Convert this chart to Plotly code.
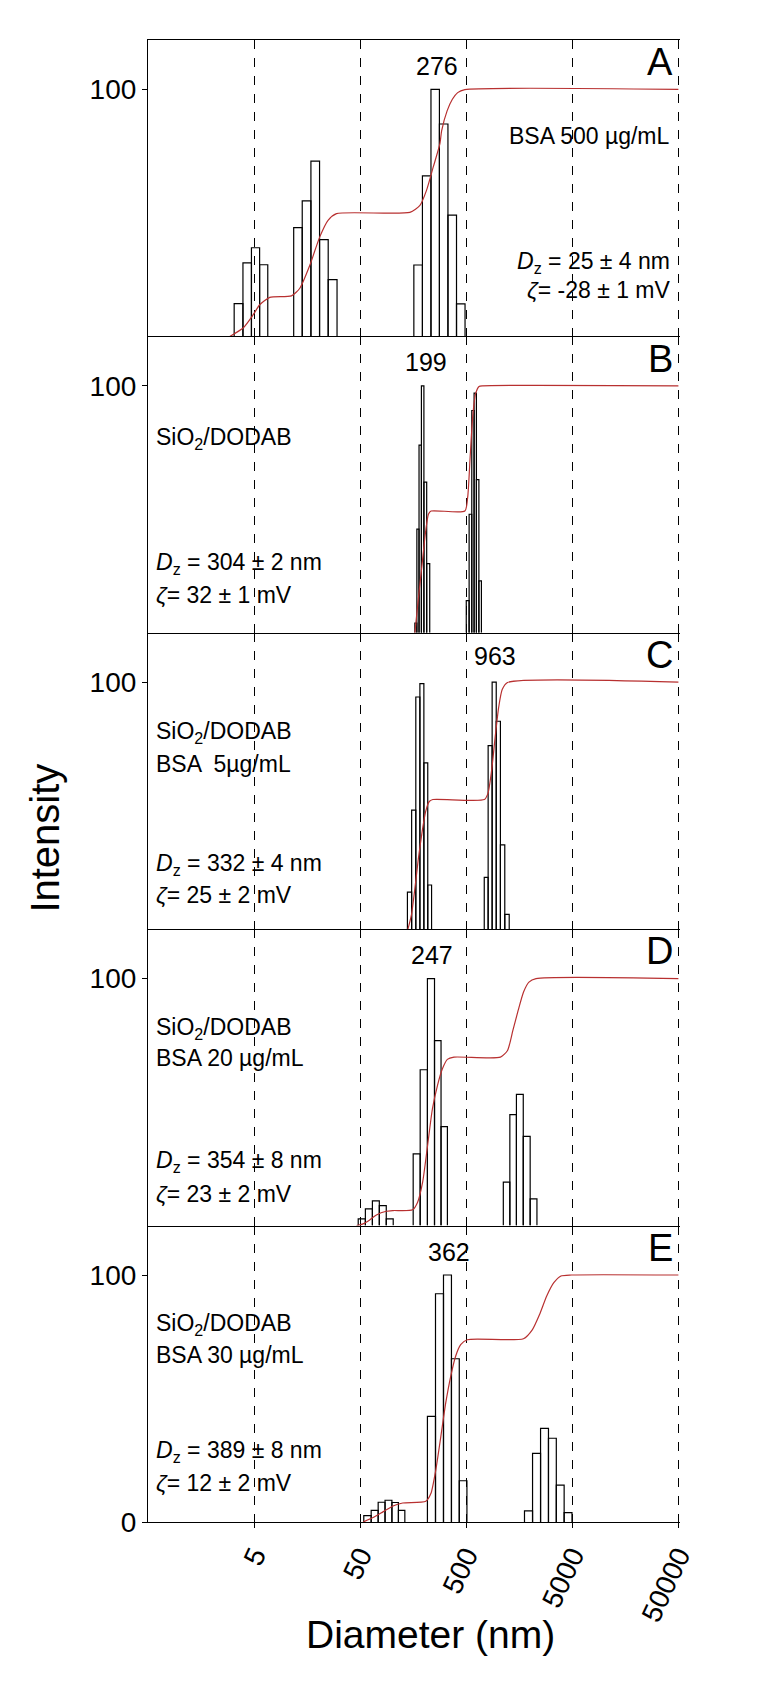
import numpy as np
import plotly.graph_objects as go
from plotly.subplots import make_subplots

# ---------------- data ----------------
panel_letters = ["A", "B", "C", "D", "E"]

# histogram bars: bin centre diameters (nm) and intensities
a_diam = [3.57, 4.32, 5.16, 6.16, 12.96, 15.6, 18.9, 22.7, 27.5, 176, 212, 255, 306, 369, 444]
a_int = [13.3, 29.8, 35.9, 29.0, 44.0, 54.9, 71.0, 39.2, 23.0, 28.9, 65.0, 100, 86.0, 49.1, 13.2]

b_diam = [167.5, 175, 184, 194, 205, 219, 516, 549, 579, 607, 640, 676]
b_int = [3.9, 42, 76, 100, 61, 28, 13, 48, 90, 97, 62, 21]

c_diam = [146, 160, 175, 191, 208, 226, 771, 839, 917, 1002, 1100, 1211]
c_int = [15.0, 48.2, 94, 99.4, 67.3, 17.9, 21, 74.3, 100, 84.2, 34.1, 6]

d_diam = [51.8, 60.5, 70.3, 81.7, 95.0, 170.5, 198.5, 233.5, 270, 310, 1200, 1383, 1597, 1860, 2155]
d_int = [2.7, 6.8, 10, 8.1, 2.7, 29, 63.1, 100, 74.9, 40.1, 17.6, 44.9, 53.1, 36.1, 10.8]

e_diam = [58.6, 68.8, 79.4, 92.7, 107, 123, 235, 280, 332.5, 395.5, 467, 1932, 2301, 2736, 3243, 3845, 4558]
e_int = [2.6, 4.7, 8.0, 8.8, 7.9, 4.7, 42.8, 92.4, 100, 66.1, 16.7, 4.5, 27.8, 37.9, 33.9, 14.9, 3.8]

# cumulative (red) curves: diameter (nm), cumulative intensity (%)
a_cum_d = [2.95, 3.94, 4.89, 5.65, 7.03, 11.25, 13.5, 16.8, 20.8, 24.9, 29.9, 147, 183, 211, 244, 282, 293, 330, 370, 415, 485, 50000]
a_cum_v = [0, 3.4, 8.7, 12.8, 15.8, 16.4, 19.5, 28.9, 40.3, 47.0, 49.7, 50.2, 53.0, 59.1, 68.5, 77.9, 83.2, 91.3, 96.0, 98.7, 99.9, 100]

b_cum_d = [164, 177, 192, 207, 220, 233, 485, 516, 544, 574, 611, 660, 713, 50000]
b_cum_v = [0, 14, 28, 41, 48, 49.3, 49.3, 55, 71, 87, 96.6, 99.7, 100, 100]

c_cum_d = [141, 152, 164, 177, 192, 207, 224, 242, 741, 801, 865, 935, 1009, 1091, 1225, 50000]
c_cum_v = [0, 5.7, 16.5, 28.7, 39.5, 47.6, 51.7, 52.5, 52.5, 55, 63.9, 77.4, 89.6, 97, 99.9, 100]

d_cum_d = [46.2, 53.3, 61.5, 71.1, 88.1, 102, 156, 174, 194, 216, 240, 268, 298, 332, 383, 1050, 1225, 1376, 1545, 1734, 1950, 2274, 50000]
d_cum_v = [0, 0.7, 2.3, 4.3, 5.8, 6.1, 6.4, 9.5, 17.6, 32.4, 47.3, 56.8, 63.5, 67.3, 68.2, 68.2, 70.9, 79, 87.2, 94.6, 98.6, 100, 100]

e_cum_d = [53.4, 66.2, 82, 102, 126, 208, 232, 258, 288, 320, 357, 397, 443, 511, 1732, 2103, 2455, 2868, 3346, 3905, 4918, 50000]
e_cum_v = [0, 1.8, 4.1, 6.5, 7.7, 8.4, 11.5, 21, 34.6, 48.1, 59, 67.1, 71.8, 73.8, 74.2, 77.9, 84, 91.5, 96.9, 99.6, 100, 100]

# peak labels (text, diameter at label centre, height)
peak_text = ["276", "199", "963", "247", "362"]
peak_pos = [265, 210, 935, 236, 343]
peak_y = [109.5, 109.5, 110.5, 109.5, 109.5]

# sample description lines per panel
desc_lines = [
    ["BSA 500 \u00b5g/mL"],
    ["SiO<sub>2</sub>/DODAB"],
    ["SiO<sub>2</sub>/DODAB", "BSA  5\u00b5g/mL"],
    ["SiO<sub>2</sub>/DODAB", "BSA 20 \u00b5g/mL"],
    ["SiO<sub>2</sub>/DODAB", "BSA 30 \u00b5g/mL"],
]
desc_y = [[81], [78.5], [79.5, 67], [80, 68], [80, 67.5]]
dz_text = ["25 \u00b1 4 nm", "304 \u00b1 2 nm", "332 \u00b1 4 nm", "354 \u00b1 8 nm", "389 \u00b1 8 nm"]
zeta_text = ["-28 \u00b1 1 mV", "32 \u00b1 1 mV", "25 \u00b1 2 mV", "23 \u00b1 2 mV", "12 \u00b1 2 mV"]
dz_y = [30, 28, 26, 26, 28.5]
zeta_y = [18.6, 15.5, 13.8, 12.8, 15.6]

x_ticks = [5, 50, 500, 5000, 50000]
x_min, x_max = 0.5, 50000

bars = [(a_diam, a_int), (b_diam, b_int), (c_diam, c_int), (d_diam, d_int), (e_diam, e_int)]
cums = [(a_cum_d, a_cum_v), (b_cum_d, b_cum_v), (c_cum_d, c_cum_v), (d_cum_d, d_cum_v), (e_cum_d, e_cum_v)]

# ---------------- figure ----------------
W, H = 762, 1686
ML, MT, MB = 148, 40, 164
plot_w = 530.0
ext = 0.015  # keep the 50000 grid line inside the plotting range
lx0, lx1 = np.log10(x_min), np.log10(x_max) + ext
px_per_dec = plot_w / (np.log10(x_max) - np.log10(x_min))
MR = W - ML - px_per_dec * (lx1 - lx0)
PH = H - MT - MB

FONT = "Liberation Sans, Arial, sans-serif"
RED = "#b83030"

fig = make_subplots(rows=5, cols=1, shared_xaxes=True, vertical_spacing=0)


def bar_outline(diam, heights):
    l = np.log10(np.asarray(diam, float))
    h = np.asarray(heights, float)
    d = np.diff(l)
    step = np.median(d)
    groups, cur = [], [0]
    for i in range(1, len(l)):
        if l[i] - l[i - 1] > 1.8 * step:
            groups.append(cur)
            cur = [i]
        else:
            cur.append(i)
    groups.append(cur)
    xs, ys = [], []
    for g in groups:
        lg = l[g]
        if len(lg) > 1:
            mids = (lg[1:] + lg[:-1]) / 2
            edges = np.concatenate([[lg[0] - (lg[1] - lg[0]) / 2], mids, [lg[-1] + (lg[-1] - lg[-2]) / 2]])
        else:
            edges = np.array([lg[0] - step / 2, lg[0] + step / 2])
        for k, idx in enumerate(g):
            x0, x1 = 10 ** edges[k], 10 ** edges[k + 1]
            xs += [x0, x0, x1, x1, None]
            ys += [0, h[idx], h[idx], 0, None]
    return xs, ys


for r in range(5):
    row = r + 1
    bx, by = bar_outline(*bars[r])
    fig.add_trace(go.Scatter(x=bx, y=by, mode="lines", line=dict(color="black", width=1.2),
                             showlegend=False, hoverinfo="skip"), row=row, col=1)
    cd, cv = cums[r]
    fig.add_trace(go.Scatter(x=cd, y=cv, mode="lines", line=dict(color=RED, width=1.2, shape="spline", smoothing=0.6),
                             showlegend=False, hoverinfo="skip"), row=row, col=1)

    xname = "x" if row == 1 else f"x{row}"
    yname = "y" if row == 1 else f"y{row}"
    # panel letter
    fig.add_annotation(x=lx1 - ext, y=111, xref=xname, yref=yname, text=panel_letters[r], showarrow=False,
                       xanchor="right", yanchor="middle", xshift=-3, font=dict(size=38, family=FONT, color="black"))
    # peak label
    fig.add_annotation(x=np.log10(peak_pos[r]), y=peak_y[r], xref=xname, yref=yname, text=peak_text[r],
                       showarrow=False, xanchor="center", yanchor="middle", font=dict(size=25, family=FONT, color="black"))
    if r == 0:
        xa, anch, shift = lx1 - ext, "right", -6
    else:
        xa, anch, shift = lx0, "left", 6
    for t, yy in zip(desc_lines[r], desc_y[r]):
        fig.add_annotation(x=xa, y=yy, xref=xname, yref=yname, text=t, showarrow=False, xanchor=anch,
                           yanchor="middle", xshift=shift, font=dict(size=23, family=FONT, color="black"))
    fig.add_annotation(x=xa, y=dz_y[r], xref=xname, yref=yname,
                       text="<i>D</i><sub>z</sub> = " + dz_text[r], showarrow=False, xanchor=anch,
                       yanchor="middle", xshift=shift, font=dict(size=23, family=FONT, color="black"))
    fig.add_annotation(x=xa, y=zeta_y[r], xref=xname, yref=yname,
                       text="<i>\u03b6</i>= " + zeta_text[r], showarrow=False, xanchor=anch,
                       yanchor="middle", xshift=shift, font=dict(size=23, family=FONT, color="black"))

    fig.update_xaxes(type="log", range=[lx0, lx1], tickvals=x_ticks, ticktext=[str(v) for v in x_ticks],
                     showgrid=True, gridcolor="black", griddash="dash", gridwidth=1,
                     showline=True, linecolor="black", linewidth=1.2, zeroline=False,
                     mirror=(row == 1), row=row, col=1)
    if row == 5:
        fig.update_xaxes(ticks="outside", ticklen=5, tickcolor="black", tickangle=-65, showticklabels=True,
                         tickfont=dict(size=28, family=FONT, color="black"), row=row, col=1)
    else:
        fig.update_xaxes(ticks="", showticklabels=False, row=row, col=1)
    fig.update_yaxes(range=[0, 120], tickvals=[0, 100] if row == 5 else [100], ticks="outside", ticklen=5,
                     tickcolor="black", showline=True, linecolor="black", linewidth=1.2, showgrid=False,
                     zeroline=False, tickfont=dict(size=28, family=FONT, color="black"), row=row, col=1)

# axis titles
fig.add_annotation(x=(45 - ML) / plot_w, y=1 - (838 - MT) / PH, xref="paper", yref="paper",
                   text="Intensity", textangle=-90, showarrow=False, xanchor="center", yanchor="middle",
                   font=dict(size=40, family=FONT, color="black"))
fig.add_annotation(x=(430 - ML) / (W - ML - MR), y=1 - (1634 - MT) / PH, xref="paper", yref="paper",
                   text="Diameter (nm)", showarrow=False, xanchor="center", yanchor="middle",
                   font=dict(size=39, family=FONT, color="black"))

fig.update_layout(width=W, height=H, margin=dict(l=ML, r=MR, t=MT, b=MB), plot_bgcolor="white",
                  paper_bgcolor="white", font=dict(family=FONT, color="black"), showlegend=False)

fig.write_html("out.html", config={"displayModeBar": False},
               post_script="document.body.style.margin='0px';")
